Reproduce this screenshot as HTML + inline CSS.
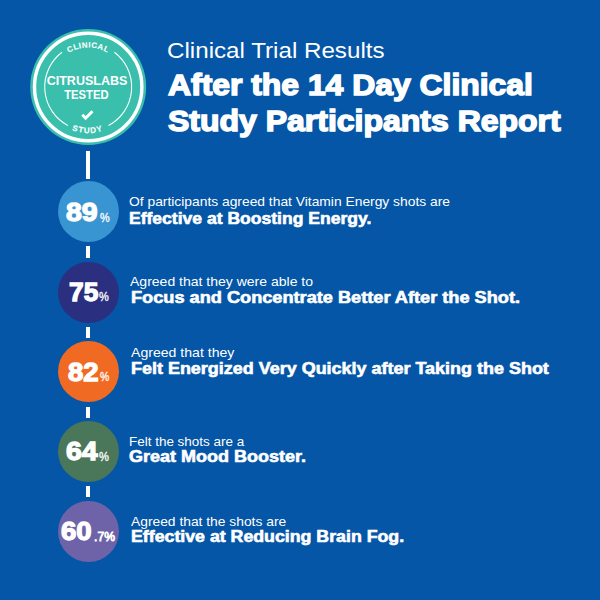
<!DOCTYPE html>
<html><head><meta charset="utf-8"><title>Clinical Trial Results</title>
<style>
html,body{margin:0;padding:0}
body{width:600px;height:600px;overflow:hidden;position:relative;background:#0556a6;font-family:"Liberation Sans",sans-serif;color:#fff}
.t{position:absolute;white-space:nowrap;line-height:1;transform-origin:0 0}
.c{position:absolute;border-radius:50%}
.ln{position:absolute;left:86.25px;width:3.5px;background:#fff}
#badge{position:absolute;left:0;top:0}
</style></head>
<body>
<svg id="badge" width="180" height="160" viewBox="0 0 180 160">
<defs>
<path id="arcTop" d="M 48.8 87 A 39.4 39.4 0 0 1 127.6 87"/>
<path id="arcBot" d="M 42.1 87 A 46.1 46.1 0 0 0 134.3 87"/>
</defs>
<circle cx="88.2" cy="87" r="58" fill="#3abfad"/>
<circle cx="88.2" cy="87" r="53.7" fill="none" stroke="#fff" stroke-width="3.4"/>
<path d="M 62 52.3 A 43.5 43.5 0 0 0 67.8 125.4" fill="none" stroke="#fff" stroke-width="1.1"/>
<path d="M 114.4 52.3 A 43.5 43.5 0 0 1 108.6 125.4" fill="none" stroke="#fff" stroke-width="1.1"/>
<text font-family="Liberation Sans" font-weight="700" font-size="7.9" fill="#fff" stroke="#fff" stroke-width="0.1" letter-spacing="0.5" text-anchor="middle"><textPath href="#arcTop" startOffset="50%">CLINICAL</textPath></text>
<text font-family="Liberation Sans" font-weight="700" font-size="8.1" fill="#fff" stroke="#fff" stroke-width="0.1" letter-spacing="0.95" text-anchor="middle"><textPath href="#arcBot" startOffset="49.6%">STUDY</textPath></text>
<text x="87" y="85.3" font-family="Liberation Sans" font-weight="700" font-size="12.5" fill="#fff" text-anchor="middle">CITRUSLABS</text>
<text x="64.2" y="99.2" font-family="Liberation Sans" font-weight="700" font-size="12.5" fill="#fff" textLength="44.4" lengthAdjust="spacingAndGlyphs">TESTED</text>
<polyline points="82.3,114.8 85.6,118.2 92.5,111.3" fill="none" stroke="#fff" stroke-width="3"/>
</svg>

<div class="c" style="left:57.5px;top:181.00px;width:61.0px;height:61.0px;background:#3994d2"></div>
<div class="c" style="left:57.5px;top:261.60px;width:61.0px;height:61.0px;background:#2a2f80"></div>
<div class="c" style="left:57.5px;top:341.30px;width:61.0px;height:61.0px;background:#f06a24"></div>
<div class="c" style="left:57.5px;top:421.20px;width:61.0px;height:61.0px;background:#4a775a"></div>
<div class="c" style="left:57.5px;top:500.80px;width:61.0px;height:61.0px;background:#6e63a8"></div>
<div class="ln" style="top:151.30px;height:27.40px"></div>
<div class="ln" style="top:246.20px;height:12.10px"></div>
<div class="ln" style="top:326.80px;height:11.20px"></div>
<div class="ln" style="top:406.50px;height:11.40px"></div>
<div class="ln" style="top:486.40px;height:11.10px"></div>
<div id="n1" class="t" style="left:65.57px;top:198.75px;font-size:26.40px;font-weight:700;-webkit-text-stroke:1.3px #fff;transform:scaleX(1.0767)">89</div>
<div id="p1" class="t" style="left:99.65px;top:210.57px;font-size:13.20px;-webkit-text-stroke:0.35px #fff;transform:scaleX(0.8259)">%</div>
<div id="n2" class="t" style="left:68.70px;top:278.55px;font-size:26.40px;font-weight:700;-webkit-text-stroke:1.3px #fff;transform:scaleX(0.9988)">75</div>
<div id="p2" class="t" style="left:99.04px;top:289.55px;font-size:13.20px;-webkit-text-stroke:0.35px #fff;transform:scaleX(0.8337)">%</div>
<div id="n3" class="t" style="left:67.79px;top:358.65px;font-size:26.40px;font-weight:700;-webkit-text-stroke:1.3px #fff;transform:scaleX(1.0459)">82</div>
<div id="p3" class="t" style="left:99.64px;top:369.50px;font-size:13.20px;-webkit-text-stroke:0.35px #fff;transform:scaleX(0.7898)">%</div>
<div id="n4" class="t" style="left:65.61px;top:438.15px;font-size:26.40px;font-weight:700;-webkit-text-stroke:1.3px #fff;transform:scaleX(1.0786)">64</div>
<div id="p4" class="t" style="left:99.00px;top:449.57px;font-size:13.20px;-webkit-text-stroke:0.35px #fff;transform:scaleX(0.8453)">%</div>
<div id="n5" class="t" style="left:60.65px;top:517.53px;font-size:26.40px;font-weight:700;-webkit-text-stroke:1.3px #fff;transform:scaleX(1.0455)">60</div>
<div id="p5" class="t" style="left:93.51px;top:529.54px;font-size:13.20px;-webkit-text-stroke:0.8px #fff;transform:scaleX(0.9229)">.7%</div>
<div id="h0" class="t" style="left:166.51px;top:39.70px;font-size:22.50px;transform:scaleX(1.0741)">Clinical Trial Results</div>
<div id="h1" class="t" style="left:167.65px;top:69.61px;font-size:30.20px;font-weight:700;-webkit-text-stroke:1.5px #fff;transform:scaleX(1.0558)">After the 14 Day Clinical</div>
<div id="h2" class="t" style="left:167.70px;top:105.61px;font-size:30.20px;font-weight:700;-webkit-text-stroke:1.5px #fff;transform:scaleX(1.0594)">Study Participants Report</div>
<div id="s1" class="t" style="left:128.52px;top:194.58px;font-size:13.20px;transform:scaleX(1.0484)">Of participants agreed that Vitamin Energy shots are</div>
<div id="b1" class="t" style="left:128.83px;top:210.71px;font-size:16.00px;font-weight:700;-webkit-text-stroke:0.6px #fff;transform:scaleX(1.0958)">Effective at Boosting Energy.</div>
<div id="s2" class="t" style="left:129.96px;top:274.73px;font-size:13.20px;transform:scaleX(1.0622)">Agreed that they were able to</div>
<div id="b2" class="t" style="left:130.65px;top:289.71px;font-size:16.00px;font-weight:700;-webkit-text-stroke:0.6px #fff;transform:scaleX(1.1357)">Focus and Concentrate Better After the Shot.</div>
<div id="s3" class="t" style="left:130.51px;top:345.64px;font-size:13.20px;transform:scaleX(1.0684)">Agreed that they</div>
<div id="b3" class="t" style="left:130.56px;top:360.64px;font-size:16.00px;font-weight:700;-webkit-text-stroke:0.6px #fff;transform:scaleX(1.1225)">Felt Energized Very Quickly after Taking the Shot</div>
<div id="s4" class="t" style="left:128.57px;top:434.55px;font-size:13.20px;transform:scaleX(1.0202)">Felt the shots are a</div>
<div id="b4" class="t" style="left:128.50px;top:448.73px;font-size:16.00px;font-weight:700;-webkit-text-stroke:0.6px #fff;transform:scaleX(1.1255)">Great Mood Booster.</div>
<div id="s5" class="t" style="left:130.51px;top:514.70px;font-size:13.20px;transform:scaleX(1.0478)">Agreed that the shots are</div>
<div id="b5" class="t" style="left:130.59px;top:528.73px;font-size:16.00px;font-weight:700;-webkit-text-stroke:0.6px #fff;transform:scaleX(1.1090)">Effective at Reducing Brain Fog.</div>
</body></html>
